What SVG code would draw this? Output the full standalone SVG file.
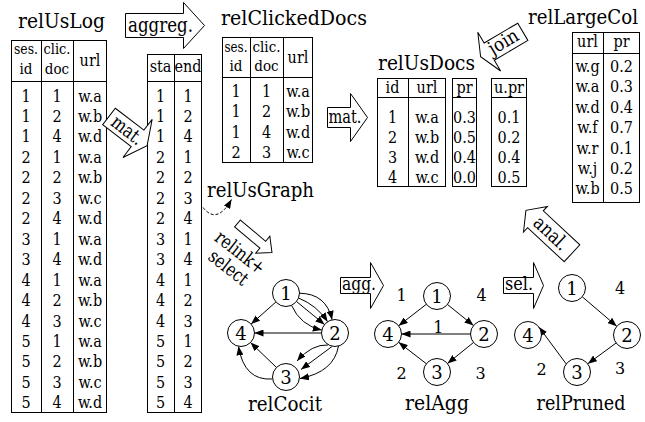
<svg xmlns="http://www.w3.org/2000/svg" width="645" height="422" viewBox="0 0 645 422">
<style>
text { fill: #000; font-family: "DejaVu Serif", serif; }
.title { font-size: 21px; }
.c { font-size: 16px; text-anchor: middle; font-family: "DejaVu Serif Condensed", "DejaVu Serif", serif; font-stretch: condensed; }
.h { font-size: 15px; }
.box { fill: #fff; stroke: #000; stroke-width: 1; }
.ln { stroke: #000; stroke-width: 1; fill: none; }
.arr { fill: #fff; stroke: #000; stroke-width: 1; stroke-linejoin: miter; }
.al { font-size: 19px; }
.edge { stroke: #000; stroke-width: 1; fill: none; marker-end: url(#ah); }
.nd { fill: #fff; stroke: #000; stroke-width: 1; }
.nl { font-size: 18px; text-anchor: middle; }
.wl { font-size: 16px; text-anchor: middle; }
.gt { font-size: 21px; text-anchor: middle; }
</style>
<defs>
<marker id="ah" viewBox="0 0 9 7" refX="9" refY="3.5" markerWidth="9" markerHeight="7" markerUnits="userSpaceOnUse" orient="auto">
<path d="M0,0 L9,3.5 L0,7 z" fill="#000"/>
</marker>
</defs>
<rect width="645" height="422" fill="#fff"/>

<!-- relUsLog -->
<g id="relUsLog">
<text class="title" x="18" y="28" textLength="87" lengthAdjust="spacingAndGlyphs">relUsLog</text>
<rect class="box" x="11.5" y="40.5" width="95" height="372"/>
<path class="ln" d="M41.5,40.5V412.5M73.5,40.5V412.5M11.5,81.5H106.5"/>
<text class="c h" x="26" y="54" textLength="24" lengthAdjust="spacingAndGlyphs">ses.</text><text class="c h" x="26" y="74">id</text>
<text class="c h" x="57" y="54" textLength="27" lengthAdjust="spacingAndGlyphs">clic.</text><text class="c h" x="57" y="74">doc</text>
<text class="c" x="90" y="66">url</text>
<text class="c" x="26" y="101.5">1</text><text class="c" x="57" y="101.5">1</text><text class="c" x="90" y="101.5">w.a</text>
<text class="c" x="26" y="122">1</text><text class="c" x="57" y="122">2</text><text class="c" x="90" y="122">w.b</text>
<text class="c" x="26" y="142.4">1</text><text class="c" x="57" y="142.4">4</text><text class="c" x="90" y="142.4">w.d</text>
<text class="c" x="26" y="162.9">2</text><text class="c" x="57" y="162.9">1</text><text class="c" x="90" y="162.9">w.a</text>
<text class="c" x="26" y="183.3">2</text><text class="c" x="57" y="183.3">2</text><text class="c" x="90" y="183.3">w.b</text>
<text class="c" x="26" y="203.8">2</text><text class="c" x="57" y="203.8">3</text><text class="c" x="90" y="203.8">w.c</text>
<text class="c" x="26" y="224.2">2</text><text class="c" x="57" y="224.2">4</text><text class="c" x="90" y="224.2">w.d</text>
<text class="c" x="26" y="244.7">3</text><text class="c" x="57" y="244.7">1</text><text class="c" x="90" y="244.7">w.a</text>
<text class="c" x="26" y="265.1">3</text><text class="c" x="57" y="265.1">4</text><text class="c" x="90" y="265.1">w.d</text>
<text class="c" x="26" y="285.6">4</text><text class="c" x="57" y="285.6">1</text><text class="c" x="90" y="285.6">w.a</text>
<text class="c" x="26" y="306">4</text><text class="c" x="57" y="306">2</text><text class="c" x="90" y="306">w.b</text>
<text class="c" x="26" y="326.5">4</text><text class="c" x="57" y="326.5">3</text><text class="c" x="90" y="326.5">w.c</text>
<text class="c" x="26" y="346.9">5</text><text class="c" x="57" y="346.9">1</text><text class="c" x="90" y="346.9">w.a</text>
<text class="c" x="26" y="367.4">5</text><text class="c" x="57" y="367.4">2</text><text class="c" x="90" y="367.4">w.b</text>
<text class="c" x="26" y="387.8">5</text><text class="c" x="57" y="387.8">3</text><text class="c" x="90" y="387.8">w.c</text>
<text class="c" x="26" y="408.3">5</text><text class="c" x="57" y="408.3">4</text><text class="c" x="90" y="408.3">w.d</text>
</g>

<!-- relUsGraph table -->
<g id="relUsGraph">
<rect class="box" x="147.5" y="54.5" width="54" height="358"/>
<path class="ln" d="M174.5,54.5V412.5M147.5,81.5H201.5"/>
<text class="c" x="160.5" y="71.5">sta</text><text class="c" x="188" y="71.5">end</text>
<text class="c" x="160.5" y="101.5">1</text><text class="c" x="188" y="101.5">1</text>
<text class="c" x="160.5" y="122">1</text><text class="c" x="188" y="122">2</text>
<text class="c" x="160.5" y="142.4">1</text><text class="c" x="188" y="142.4">4</text>
<text class="c" x="160.5" y="162.9">2</text><text class="c" x="188" y="162.9">1</text>
<text class="c" x="160.5" y="183.3">2</text><text class="c" x="188" y="183.3">2</text>
<text class="c" x="160.5" y="203.8">2</text><text class="c" x="188" y="203.8">3</text>
<text class="c" x="160.5" y="224.2">2</text><text class="c" x="188" y="224.2">4</text>
<text class="c" x="160.5" y="244.7">3</text><text class="c" x="188" y="244.7">1</text>
<text class="c" x="160.5" y="265.1">3</text><text class="c" x="188" y="265.1">4</text>
<text class="c" x="160.5" y="285.6">4</text><text class="c" x="188" y="285.6">1</text>
<text class="c" x="160.5" y="306">4</text><text class="c" x="188" y="306">2</text>
<text class="c" x="160.5" y="326.5">4</text><text class="c" x="188" y="326.5">3</text>
<text class="c" x="160.5" y="346.9">5</text><text class="c" x="188" y="346.9">1</text>
<text class="c" x="160.5" y="367.4">5</text><text class="c" x="188" y="367.4">2</text>
<text class="c" x="160.5" y="387.8">5</text><text class="c" x="188" y="387.8">3</text>
<text class="c" x="160.5" y="408.3">5</text><text class="c" x="188" y="408.3">4</text>
<text class="title" x="207" y="197" textLength="107" lengthAdjust="spacingAndGlyphs">relUsGraph</text>
</g>

<!-- relClickedDocs -->
<g id="relClickedDocs">
<text class="title" x="221" y="25" textLength="146" lengthAdjust="spacingAndGlyphs">relClickedDocs</text>
<rect class="box" x="222.5" y="37.5" width="90" height="125"/>
<path class="ln" d="M250.5,37.5V162.5M283.5,37.5V162.5M222.5,77.5H312.5"/>
<text class="c h" x="236" y="51.5" textLength="23" lengthAdjust="spacingAndGlyphs">ses.</text><text class="c h" x="236" y="71">id</text>
<text class="c h" x="266.5" y="51.5" textLength="28" lengthAdjust="spacingAndGlyphs">clic.</text><text class="c h" x="266.5" y="71">doc</text>
<text class="c" x="298" y="63">url</text>
<text class="c" x="236" y="97">1</text><text class="c" x="266.5" y="97">1</text><text class="c" x="298" y="97">w.a</text>
<text class="c" x="236" y="117.3">1</text><text class="c" x="266.5" y="117.3">2</text><text class="c" x="298" y="117.3">w.b</text>
<text class="c" x="236" y="137.6">1</text><text class="c" x="266.5" y="137.6">4</text><text class="c" x="298" y="137.6">w.d</text>
<text class="c" x="236" y="158">2</text><text class="c" x="266.5" y="158">3</text><text class="c" x="298" y="158">w.c</text>
</g>

<!-- relUsDocs -->
<g id="relUsDocs">
<text class="title" x="378" y="70" textLength="97" lengthAdjust="spacingAndGlyphs">relUsDocs</text>
<rect class="box" x="377.5" y="78.5" width="68" height="108"/>
<path class="ln" d="M408.5,78.5V186.5M377.5,97.5H445.5"/>
<rect class="box" x="452.5" y="78.5" width="24" height="108"/>
<path class="ln" d="M452.5,97.5H476.5"/>
<rect class="box" x="491.5" y="78.5" width="35" height="108"/>
<path class="ln" d="M491.5,97.5H526.5"/>
<text class="c" x="392.5" y="93">id</text><text class="c" x="427" y="93">url</text><text class="c" x="464.5" y="93">pr</text><text class="c" x="509" y="93">u.pr</text>
<text class="c" x="392.5" y="123">1</text><text class="c" x="427" y="123">w.a</text><text class="c" x="464.5" y="123">0.3</text><text class="c" x="509" y="123">0.1</text>
<text class="c" x="392.5" y="143">2</text><text class="c" x="427" y="143">w.b</text><text class="c" x="464.5" y="143">0.5</text><text class="c" x="509" y="143">0.2</text>
<text class="c" x="392.5" y="163">3</text><text class="c" x="427" y="163">w.d</text><text class="c" x="464.5" y="163">0.4</text><text class="c" x="509" y="163">0.4</text>
<text class="c" x="392.5" y="183">4</text><text class="c" x="427" y="183">w.c</text><text class="c" x="464.5" y="183">0.0</text><text class="c" x="509" y="183">0.5</text>
</g>

<!-- relLargeCol -->
<g id="relLargeCol">
<text class="title" x="638" y="24" text-anchor="end" textLength="110" lengthAdjust="spacingAndGlyphs">relLargeCol</text>
<rect class="box" x="572.5" y="32.5" width="67" height="170"/>
<path class="ln" d="M603.5,32.5V202.5M572.5,53.5H639.5"/>
<text class="c" x="587.5" y="47">url</text><text class="c" x="621.5" y="47">pr</text>
<text class="c" x="587.5" y="72">w.g</text><text class="c" x="621.5" y="72">0.2</text>
<text class="c" x="587.5" y="92.4">w.a</text><text class="c" x="621.5" y="92.4">0.3</text>
<text class="c" x="587.5" y="112.8">w.d</text><text class="c" x="621.5" y="112.8">0.4</text>
<text class="c" x="587.5" y="133.2">w.f</text><text class="c" x="621.5" y="133.2">0.7</text>
<text class="c" x="587.5" y="153.6">w.r</text><text class="c" x="621.5" y="153.6">0.1</text>
<text class="c" x="587.5" y="174">w.j</text><text class="c" x="621.5" y="174">0.2</text>
<text class="c" x="587.5" y="194.4">w.b</text><text class="c" x="621.5" y="194.4">0.5</text>
</g>

<!-- connectors -->
<g id="connectors">
<g id="arrow-aggreg">
<polygon class="arr" points="125.5,13.5 183.5,13.5 183.5,2.5 204.5,25.5 183.5,48.5 183.5,37.5 125.5,37.5"/>
<text class="al" x="128" y="32" style="font-size:20px" textLength="65" lengthAdjust="spacingAndGlyphs">aggreg.</text>
</g>
<g id="arrow-mat1">
<polygon class="arr" transform="translate(109,116.5) rotate(37.5)" points="0,-10.4 36,-10.4 36,-24 48,0 36,24 36,10.4 0,10.4"/>
<text class="al" transform="translate(127.2,130.5) rotate(37.5)" x="-17.5" y="6" textLength="35" lengthAdjust="spacingAndGlyphs">mat.</text>
</g>
<g id="arrow-mat2">
<polygon class="arr" points="327.5,107.5 350.5,107.5 350.5,93.5 367.5,117.5 350.5,141.5 350.5,127.5 327.5,127.5"/>
<text class="al" x="328.5" y="123" textLength="33" lengthAdjust="spacingAndGlyphs">mat.</text>
</g>
<g id="arrow-join">
<polygon class="arr" transform="translate(480.6,56.7) rotate(-30.5)" points="0,0 10,-22.5 10,-10 49,-10 49,10 10,10 10,22.5"/>
<text class="al" transform="translate(504,43) rotate(-30.5)" x="-16" y="5" textLength="32" lengthAdjust="spacingAndGlyphs">join</text>
</g>
<g id="arrow-relink">
<polygon class="arr" transform="translate(237.5,223.5) rotate(40)" points="0,-4.5 33,-4.5 33,-11 45,0 33,11 33,4.5 0,4.5"/>
<text class="al" transform="translate(234.5,260) rotate(38)"><tspan x="-29" y="-3" textLength="58" lengthAdjust="spacingAndGlyphs">relink+</tspan><tspan x="-22.5" y="16" textLength="45" lengthAdjust="spacingAndGlyphs">select</tspan></text>
</g>
<path class="ln" d="M203,207.5 Q217,225 231.5,199.5" stroke-dasharray="3,2" marker-end="url(#ah)"/>
<g id="arrow-agg">
<polygon class="arr" points="340.5,277.5 370.5,277.5 370.5,262.5 383.5,285.5 370.5,308.5 370.5,293.5 340.5,293.5"/>
<text class="al" x="342" y="289.5" textLength="34" lengthAdjust="spacingAndGlyphs">agg.</text>
</g>
<g id="arrow-sel">
<polygon class="arr" points="503.5,277.5 533.5,277.5 533.5,262.5 543.5,285.5 533.5,308.5 533.5,293.5 503.5,293.5"/>
<text class="al" x="505" y="289.5" textLength="28" lengthAdjust="spacingAndGlyphs">sel.</text>
</g>
<g id="arrow-anal">
<polygon class="arr" transform="translate(572,253.3) rotate(-137)" points="0,-11.5 50,-11.5 50,-17.5 63,0 50,17.5 50,11.5 0,11.5"/>
<text class="al" transform="translate(550.8,233.5) rotate(43)" x="-20" y="6" textLength="40" lengthAdjust="spacingAndGlyphs">anal.</text>
</g>
<!-- relCocit edges -->
<path class="edge" d="M275.9,302 L251.1,324"/>
<path class="edge" d="M321.5,333 L254.5,333"/>
<path class="edge" d="M299.5,293.2 Q326.3,293.6 332.1,319.8"/>
<path class="edge" d="M298.5,298 Q316.8,305.3 327.6,321.7"/>
<path class="edge" d="M296.5,301.5 L324.5,324.5"/>
<path class="edge" d="M291.5,305.3 Q300.4,325.4 321.8,330.1"/>
<path class="edge" d="M328,345 Q312,344 297,361"/>
<path class="edge" d="M332,346.5 L301,369.5"/>
<path class="edge" d="M338.5,346 Q334,372 300,378.5"/>
<path class="edge" d="M272.5,379 Q244,381 238.5,346.3"/>
<path class="edge" d="M276.5,367.5 L250.5,342.5"/>
<!-- relAgg edges -->
<path class="edge" d="M426.3,304.3 L398.7,325.7"/>
<path class="edge" d="M447.5,304.5 L473.5,325.5"/>
<path class="edge" d="M470.5,334 L401.5,334"/>
<path class="edge" d="M473.5,342.5 L447.5,363.5"/>
<path class="edge" d="M426.3,363.7 L398.7,342.3"/>
<!-- relPruned edges -->
<path class="edge" d="M582.3,296.8 L616.7,326.2"/>
<path class="edge" d="M616.1,343 L587.9,363.7"/>
<path class="edge" d="M566.2,363.9 L538.8,326.9"/>
</g>

<!-- edge weight labels -->
<g id="weights">
<text class="wl" x="401.7" y="301">1</text>
<text class="wl" x="481.7" y="301">4</text>
<text class="wl" x="438.3" y="333">1</text>
<text class="wl" x="401.7" y="379">2</text>
<text class="wl" x="480.7" y="379">3</text>
<text class="wl" x="620" y="294">4</text>
<text class="wl" x="620" y="374">3</text>
<text class="wl" x="541.7" y="375">2</text>
</g>

<!-- relCocit nodes -->
<g id="cocit-1"><circle class="nd" cx="286" cy="293" r="13.5"/><text class="nl" x="286" y="299.5">1</text></g>
<g id="cocit-2"><circle class="nd" cx="335" cy="333" r="13.5"/><text class="nl" x="335" y="339.5">2</text></g>
<g id="cocit-3"><circle class="nd" cx="286" cy="377" r="13.5"/><text class="nl" x="286" y="383.5">3</text></g>
<g id="cocit-4"><circle class="nd" cx="241" cy="333" r="13.5"/><text class="nl" x="241" y="339.5">4</text></g>
<text class="gt" x="285" y="411" textLength="74" lengthAdjust="spacingAndGlyphs">relCocit</text>

<!-- relAgg nodes -->
<g id="agg-1"><circle class="nd" cx="437" cy="296" r="13.5"/><text class="nl" x="437" y="302.5">1</text></g>
<g id="agg-2"><circle class="nd" cx="484" cy="334" r="13.5"/><text class="nl" x="484" y="340.5">2</text></g>
<g id="agg-3"><circle class="nd" cx="437" cy="372" r="13.5"/><text class="nl" x="437" y="378.5">3</text></g>
<g id="agg-4"><circle class="nd" cx="388" cy="334" r="13.5"/><text class="nl" x="388" y="340.5">4</text></g>
<text class="gt" x="437" y="410" textLength="64" lengthAdjust="spacingAndGlyphs">relAgg</text>

<!-- relPruned nodes -->
<g id="pruned-1"><circle class="nd" cx="572" cy="288" r="13.5"/><text class="nl" x="572" y="294.5">1</text></g>
<g id="pruned-2"><circle class="nd" cx="627" cy="335" r="13.5"/><text class="nl" x="627" y="341.5">2</text></g>
<g id="pruned-3"><circle class="nd" cx="577" cy="372" r="13.5"/><text class="nl" x="577" y="378.5">3</text></g>
<g id="pruned-4"><circle class="nd" cx="528" cy="335" r="13.5"/><text class="nl" x="528" y="341.5">4</text></g>
<text class="gt" x="581" y="410" textLength="89" lengthAdjust="spacingAndGlyphs">relPruned</text>
</svg>
